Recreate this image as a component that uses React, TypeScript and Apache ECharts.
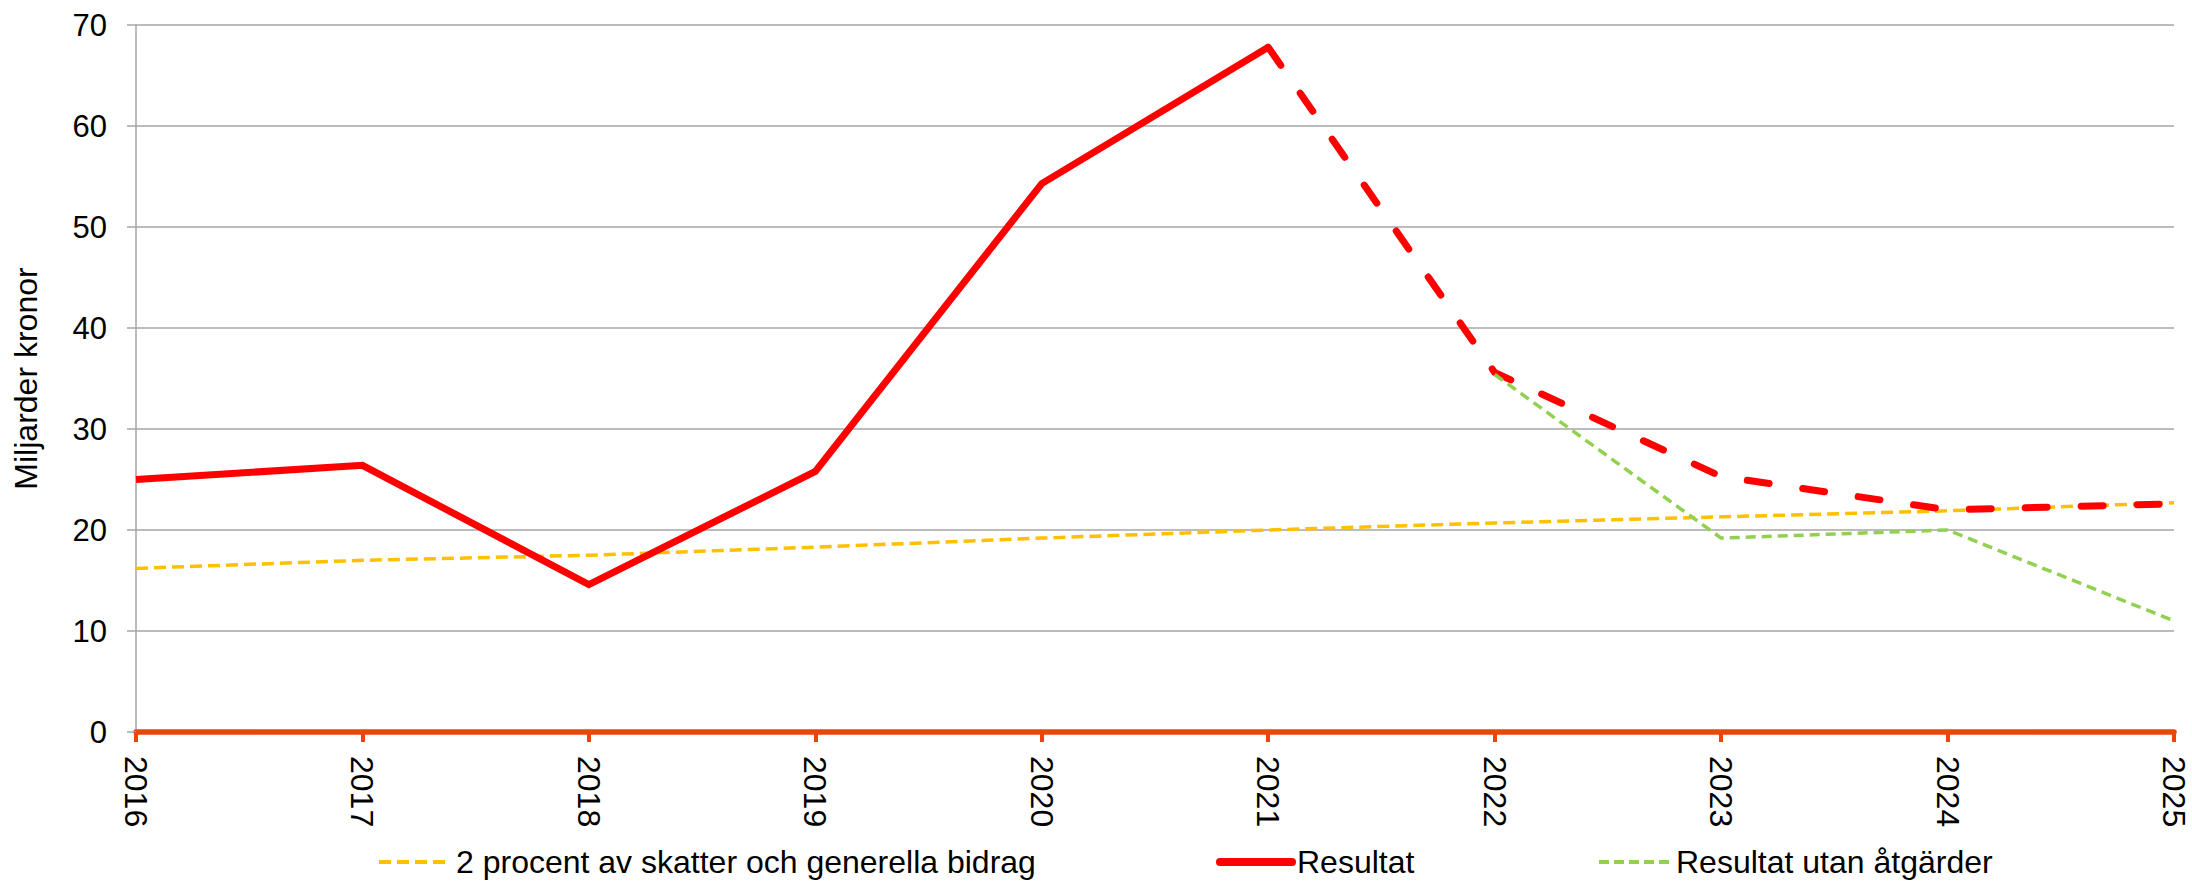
import React, { useEffect, useRef } from "react";
import * as echarts from "echarts";

const years = ["2016", "2017", "2018", "2019", "2020", "2021", "2022", "2023", "2024", "2025"];
const tvaProcent = [16.2, 17.0, 17.5, 18.3, 19.2, 20.0, 20.7, 21.3, 21.9, 22.7];
const resultatFaktiskt = [25.0, 26.4, 14.6, 25.8, 54.3, 67.8, null, null, null, null];
const resultatPrognos = [null, null, null, null, null, 67.8, 35.6, 25.3, 22.0, 22.6];
const utanAtgarder = [null, null, null, null, null, null, 35.4, 19.2, 20.0, 11.0];
const yTicks = { min: 0, max: 70, interval: 10 };

const NAME_2P = "2 procent av skatter och generella bidrag";
const NAME_RES = "Resultat";
const NAME_RES_PROG = "Resultat prognos";
const NAME_UTAN = "Resultat utan åtgärder";

const FONT = "Liberation Sans, Arial, sans-serif";
const YELLOW = "#FFC000";
const RED = "#FF0000";
const GREEN = "#92D050";
const AXIS_ORANGE = "#E8470A";
const GRID_GRAY = "#A6A6A6";

const legendBase = {
  bottom: 2,
  itemWidth: 72,
  itemHeight: 14,
  textStyle: { fontFamily: FONT, fontSize: 32, color: "#000" },
};

export default function App() {
  const ref = useRef<HTMLDivElement>(null);
  useEffect(() => {
    if (!ref.current) return;
    const chart = echarts.init(ref.current, undefined, { renderer: "svg" });
    chart.setOption({
      animation: false,
      textStyle: { fontFamily: FONT, color: "#000" },
      grid: {
        left: 136,
        right: 18,
        top: 25,
        bottom: 153,
        containLabel: false,
        outerBoundsMode: "none",
      },
      legend: [
        {
          ...legendBase,
          left: 372,
          data: [
            { name: NAME_2P, itemStyle: { opacity: 0 }, lineStyle: { color: YELLOW, width: 4, type: [12, 6] } },
          ],
        },
        {
          ...legendBase,
          left: 1211,
          data: [
            { name: NAME_RES, itemStyle: { opacity: 0 }, lineStyle: { color: RED, width: 8, type: "solid", cap: "round" } },
          ],
        },
        {
          ...legendBase,
          left: 1592,
          data: [
            { name: NAME_UTAN, itemStyle: { opacity: 0 }, lineStyle: { color: GREEN, width: 4, type: [10, 5] } },
          ],
        },
      ],
      xAxis: {
        type: "category",
        data: years,
        boundaryGap: false,
        axisLine: { lineStyle: { color: AXIS_ORANGE, width: 5.5 } },
        axisTick: { show: true, length: 10, alignWithLabel: true, lineStyle: { color: AXIS_ORANGE, width: 4 } },
        axisLabel: { rotate: -90, margin: 24, fontSize: 32, color: "#000", fontFamily: FONT },
        splitLine: { show: false },
      },
      yAxis: {
        type: "value",
        min: yTicks.min,
        max: yTicks.max,
        interval: yTicks.interval,
        name: "Miljarder kronor",
        nameLocation: "middle",
        nameGap: 94,
        nameTextStyle: { fontSize: 32, color: "#000", fontFamily: FONT },
        axisLine: { show: true, lineStyle: { color: GRID_GRAY, width: 1.5 } },
        axisTick: { show: true, length: 9, lineStyle: { color: GRID_GRAY, width: 1.5 } },
        axisLabel: { margin: 29, align: "right", fontSize: 31, color: "#000", fontFamily: FONT },
        splitLine: { show: true, lineStyle: { color: GRID_GRAY, width: 1.5 } },
      },
      series: [
        {
          name: NAME_2P,
          type: "line",
          data: tvaProcent,
          showSymbol: false,
          symbol: "none",
          lineStyle: { color: YELLOW, width: 3.5, type: [12, 6] },
          itemStyle: { color: YELLOW },
          z: 2,
        },
        {
          name: NAME_RES,
          type: "line",
          data: resultatFaktiskt,
          showSymbol: false,
          symbol: "none",
          lineStyle: { color: RED, width: 7, join: "miter" },
          itemStyle: { color: RED },
          z: 3,
        },
        {
          name: NAME_RES_PROG,
          type: "line",
          data: resultatPrognos,
          showSymbol: false,
          symbol: "none",
          lineStyle: { color: RED, width: 7, type: [22, 34], cap: "round", join: "round" },
          itemStyle: { color: RED },
          z: 3,
        },
        {
          name: NAME_UTAN,
          type: "line",
          data: utanAtgarder,
          showSymbol: false,
          symbol: "none",
          lineStyle: { color: GREEN, width: 3.5, type: [10, 6] },
          itemStyle: { color: GREEN },
          z: 4,
        },
      ],
    });
    return () => chart.dispose();
  }, []);
  return (
    <div
      ref={ref}
      style={{ position: "fixed", left: 0, top: 0, width: 2192, height: 885, background: "#fff" }}
    />
  );
}
